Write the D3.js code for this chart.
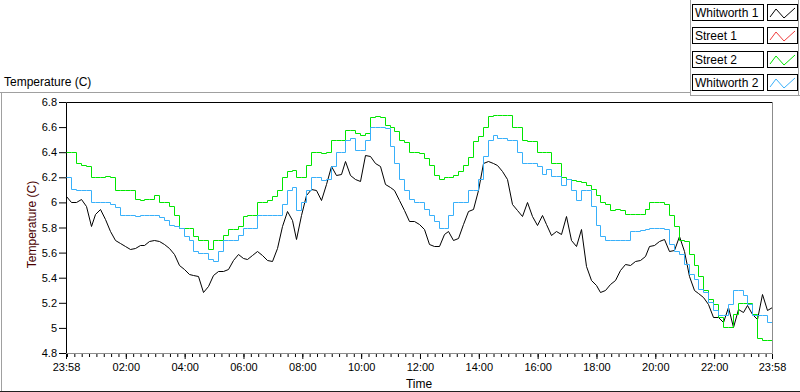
<!DOCTYPE html>
<html>
<head>
<meta charset="utf-8">
<script src="https://cdn.jsdelivr.net/npm/d3@7"></script>
<style>
  html, body { margin: 0; padding: 0; background: #fff; }
  svg { display: block; font-family: "Liberation Sans", Arial, sans-serif; }
</style>
</head>
<body>
<div id="chart"></div>
<script>
// samples every 10 minutes from 23:58 to 23:58 next day
const SAMPLE_MINUTES = 10;

const seriesNames = ['Whitworth 1', 'Street 1', 'Street 2', 'Whitworth 2'];
const seriesColors = ['#000000', '#f03c3c', '#00e600', '#38b0fa'];

const whitworth1 = [
    6.05, 6.00, 6.00, 6.03, 5.97, 5.81, 5.91, 5.95, 5.87, 5.77, 5.70, 5.68,
    5.65, 5.63, 5.64, 5.66, 5.66, 5.69, 5.70, 5.69, 5.67, 5.64, 5.59, 5.50,
    5.47, 5.43, 5.42, 5.41, 5.29, 5.33, 5.42, 5.45, 5.45, 5.47, 5.54, 5.59,
    5.56, 5.55, 5.58, 5.61, 5.58, 5.54, 5.53, 5.64, 5.81, 5.93, 5.86, 5.71,
    5.90, 6.06, 6.11, 6.10, 6.02, 6.15, 6.29, 6.22, 6.23, 6.33, 6.22, 6.19,
    6.17, 6.38, 6.37, 6.31, 6.29, 6.15, 6.12, 6.10, 6.02, 5.94, 5.85, 5.85,
    5.83, 5.79, 5.67, 5.65, 5.65, 5.75, 5.77, 5.70, 5.72, 5.83, 5.93, 5.95,
    6.10, 6.31, 6.33, 6.31, 6.30, 6.25, 6.19, 5.99, 5.94, 5.89, 6.00, 5.89,
    5.82, 5.90, 5.83, 5.74, 5.77, 5.75, 5.89, 5.70, 5.65, 5.79, 5.49, 5.38,
    5.34, 5.29, 5.30, 5.35, 5.38, 5.46, 5.51, 5.50, 5.53, 5.54, 5.57, 5.65,
    5.66, 5.69, 5.71, 5.61, 5.62, 5.73, 5.61, 5.41, 5.30, 5.28, 5.25, 5.19,
    5.09, 5.09, 5.05, 5.17, 5.01, 5.15, 5.13, 5.18, 5.11, 5.07, 5.27, 5.14,
    5.17
];

// Street 1 has no samples in this period
const street1 = [];

const street2 = [
    6.40, 6.40, 6.31, 6.30, 6.29, 6.20, 6.20, 6.20, 6.21, 6.20, 6.10, 6.10,
    6.10, 6.10, 6.03, 6.02, 6.03, 6.03, 6.06, 6.00, 6.00, 5.97, 5.90, 5.80,
    5.80, 5.80, 5.73, 5.70, 5.70, 5.63, 5.70, 5.70, 5.74, 5.79, 5.79, 5.81,
    5.89, 5.90, 5.90, 6.00, 6.00, 6.02, 6.05, 6.10, 6.20, 6.25, 6.26, 6.20,
    6.20, 6.30, 6.40, 6.40, 6.39, 6.40, 6.50, 6.50, 6.50, 6.58, 6.58, 6.55,
    6.54, 6.55, 6.68, 6.69, 6.68, 6.62, 6.60, 6.57, 6.50, 6.48, 6.40, 6.40,
    6.39, 6.35, 6.30, 6.22, 6.19, 6.20, 6.20, 6.22, 6.25, 6.30, 6.36, 6.49,
    6.53, 6.60, 6.69, 6.70, 6.70, 6.70, 6.70, 6.60, 6.60, 6.50, 6.49, 6.49,
    6.40, 6.40, 6.40, 6.31, 6.31, 6.20, 6.19, 6.18, 6.17, 6.16, 6.14, 6.11,
    6.06, 6.00, 5.99, 5.94, 5.95, 5.94, 5.91, 5.91, 5.91, 5.91, 5.95, 6.00,
    6.00, 6.00, 5.99, 5.90, 5.81, 5.70, 5.69, 5.59, 5.50, 5.41, 5.30, 5.23,
    5.19, 5.09, 5.01, 5.01, 5.11, 5.20, 5.20, 5.20, 5.11, 4.92, 4.90, 4.90,
    4.90
];

const whitworth2 = [
    6.20, 6.11, 6.10, 6.10, 6.10, 6.00, 6.00, 6.00, 6.00, 5.99, 5.96, 5.90,
    5.90, 5.90, 5.89, 5.90, 5.90, 5.90, 5.90, 5.88, 5.86, 5.82, 5.81, 5.80,
    5.73, 5.70, 5.61, 5.60, 5.60, 5.55, 5.53, 5.61, 5.70, 5.70, 5.70, 5.74,
    5.80, 5.80, 5.80, 5.90, 5.90, 5.90, 5.90, 5.90, 5.99, 6.10, 6.12, 5.94,
    6.00, 6.10, 6.20, 6.20, 6.18, 6.19, 6.29, 6.40, 6.40, 6.50, 6.51, 6.42,
    6.42, 6.50, 6.60, 6.60, 6.60, 6.59, 6.45, 6.31, 6.19, 6.10, 6.03, 6.00,
    6.00, 5.95, 5.90, 5.85, 5.80, 5.80, 5.90, 6.00, 6.00, 6.00, 6.10, 6.10,
    6.19, 6.37, 6.50, 6.54, 6.51, 6.51, 6.50, 6.50, 6.40, 6.31, 6.31, 6.31,
    6.29, 6.23, 6.27, 6.21, 6.21, 6.14, 6.19, 6.10, 6.02, 6.10, 6.10, 5.97,
    5.82, 5.73, 5.70, 5.70, 5.70, 5.70, 5.70, 5.77, 5.77, 5.78, 5.79, 5.80,
    5.80, 5.80, 5.79, 5.67, 5.61, 5.59, 5.51, 5.43, 5.39, 5.31, 5.29, 5.21,
    5.14, 5.10, 5.10, 5.19, 5.30, 5.30, 5.26, 5.19, 5.10, 5.10, 5.10, 5.05,
    4.94
];

const yTickValues = [4.8, 5, 5.2, 5.4, 5.6, 5.8, 6, 6.2, 6.4, 6.6, 6.8];
const xLabelHours = [2, 4, 6, 8, 10, 12, 14, 16, 18, 20, 22];

var drawChart = (function chartIIFE() {
    const WIDTH = 800;
    const HEIGHT = 392;
    const plot = { left: 66, top: 102, right: 772, bottom: 353 };
    const FRAME_GREY = '#a0a0a0';

    const startTime = new Date(Date.UTC(2000, 0, 1, 23, 58));
    const endTime = d3.utcDay.offset(startTime, 1);

    // snap to pixel centres so 1px lines stay sharp, like the original
    const snap = v => Math.round(v) + 0.5;

    return function drawChart(selector) {
        const svg = d3.select(selector)
            .append('svg')
            .attr('width', WIDTH)
            .attr('height', HEIGHT);

        const x = d3.scaleUtc()
            .domain([startTime, endTime])
            .range([plot.left, plot.right]);

        const y = d3.scaleLinear()
            .domain([4.8, 6.8])
            .range([plot.bottom, plot.top]);

        addFrame(svg);
        addAxes(svg, x, y);

        svg.append('defs').append('clipPath')
            .attr('id', 'plot-clip')
            .append('rect')
            .attr('x', plot.left)
            .attr('y', plot.top)
            .attr('width', plot.right - plot.left)
            .attr('height', plot.bottom - plot.top);

        const allSeries = [whitworth1, street1, street2, whitworth2];
        const stepped = [false, true, true, true];

        const plotGroup = svg.append('g').attr('clip-path', 'url(#plot-clip)');

        allSeries.forEach((values, i) => {
            if (!values.length) return;
            const points = values.map((v, k) => [d3.utcMinute.offset(startTime, k * SAMPLE_MINUTES), v]);
            const line = d3.line()
                .x(d => snap(x(d[0])))
                .y(d => snap(y(d[1])))
                .curve(stepped[i] ? d3.curveStepAfter : d3.curveLinear);

            plotGroup.append('path')
                .datum(points)
                .attr('d', line)
                .attr('fill', 'none')
                .attr('stroke', seriesColors[i])
                .attr('stroke-width', 1);
        });

        addLegend(svg);
    };

    function addFrame(svg) {
        const grey = [
            [0, 92.5, 690, 92.5],
            [1.5, 92, 1.5, 391],
            [690.5, 0, 690.5, 96],
            [690, 95.5, 800, 95.5],
            [798.5, 0, 798.5, 96]
        ];
        grey.forEach(([x1, y1, x2, y2]) => {
            svg.append('line')
                .attr('x1', x1).attr('y1', y1).attr('x2', x2).attr('y2', y2)
                .attr('stroke', FRAME_GREY);
        });
        svg.append('line')
            .attr('x1', 0).attr('y1', 391.5).attr('x2', 800).attr('y2', 391.5)
            .attr('stroke', '#202020');

        svg.append('text')
            .attr('x', 4)
            .attr('y', 86)
            .attr('font-size', 12)
            .attr('fill', '#000')
            .text('Temperature (C)');

        // plot box: dark on top/left, grey on bottom/right
        svg.append('rect')
            .attr('x', plot.left)
            .attr('y', plot.top)
            .attr('width', plot.right - plot.left)
            .attr('height', plot.bottom - plot.top)
            .attr('fill', '#fff');
        svg.append('path')
            .attr('d', `M${plot.left + 0.5},${plot.bottom}V${plot.top + 0.5}H${plot.right}`)
            .attr('fill', 'none')
            .attr('stroke', '#000');
        svg.append('path')
            .attr('d', `M${plot.left},${plot.bottom + 0.5}H${plot.right + 0.5}V${plot.top}`)
            .attr('fill', 'none')
            .attr('stroke', '#8c8c8c');
    }

    function addAxes(svg, x, y) {
        const yAxis = d3.axisLeft(y)
            .tickValues(yTickValues)
            .tickSize(7)
            .tickPadding(2)
            .tickFormat(d => String(+d.toFixed(1)));

        const yg = svg.append('g')
            .attr('transform', `translate(${plot.left},0)`)
            .call(yAxis);
        yg.select('.domain').remove();
        yg.selectAll('.tick line').attr('stroke', '#000');
        yg.selectAll('.tick text')
            .attr('font-size', 11)
            .attr('font-family', '"Liberation Sans", Arial, sans-serif')
            .attr('fill', '#000');

        const labelTimes = [startTime]
            .concat(xLabelHours.map(h => new Date(Date.UTC(2000, 0, 2, h, 0))))
            .concat([endTime]);
        const minorTimes = d3.utcMinute.every(15).range(startTime, endTime);
        const fmt = d3.utcFormat('%H:%M');

        const xMinor = d3.axisBottom(x)
            .tickValues(minorTimes)
            .tickSize(3)
            .tickFormat('');
        const xm = svg.append('g')
            .attr('transform', `translate(0,${plot.bottom + 1})`)
            .call(xMinor);
        xm.select('.domain').remove();
        xm.selectAll('.tick line').attr('stroke', '#000');

        const xMajor = d3.axisBottom(x)
            .tickValues(labelTimes)
            .tickSize(5)
            .tickPadding(4)
            .tickFormat(fmt);
        const xg = svg.append('g')
            .attr('transform', `translate(0,${plot.bottom + 1})`)
            .call(xMajor);
        xg.select('.domain').remove();
        xg.selectAll('.tick line').attr('stroke', '#000');
        xg.selectAll('.tick text')
            .attr('font-size', 11)
            .attr('font-family', '"Liberation Sans", Arial, sans-serif')
            .attr('fill', '#000');

        svg.append('text')
            .attr('x', (plot.left + plot.right) / 2)
            .attr('y', 388)
            .attr('text-anchor', 'middle')
            .attr('font-size', 12)
            .attr('fill', '#000')
            .text('Time');

        svg.append('text')
            .attr('transform', `translate(36,${(plot.top + plot.bottom) / 2 - 3}) rotate(-90)`)
            .attr('text-anchor', 'middle')
            .attr('font-size', 12)
            .attr('fill', '#4a0000')
            .text('Temperature (C)');
    }

    function addLegend(svg) {
        const rowY = d3.scaleLinear().domain([0, 3]).range([4, 74]);
        const iconLine = d3.line();

        seriesNames.forEach((name, i) => {
            const top = Math.round(rowY(i));
            const g = svg.append('g').attr('transform', `translate(0,${top})`);

            g.append('rect')
                .attr('x', 692.5).attr('y', 0.5)
                .attr('width', 71).attr('height', 16)
                .attr('fill', '#fff')
                .attr('stroke', '#000');
            g.append('text')
                .attr('x', 695)
                .attr('y', 13)
                .attr('font-size', 12)
                .attr('fill', '#000')
                .text(name);

            g.append('rect')
                .attr('x', 767.5).attr('y', 0.5)
                .attr('width', 30).attr('height', 16)
                .attr('fill', '#fff')
                .attr('stroke', '#000');
            g.append('path')
                .attr('d', iconLine([[770, 13], [776, 5], [784, 14], [795, 4]]))
                .attr('fill', 'none')
                .attr('stroke', seriesColors[i]);
        });
    }
})();

drawChart('#chart');
</script>
</body>
</html>
